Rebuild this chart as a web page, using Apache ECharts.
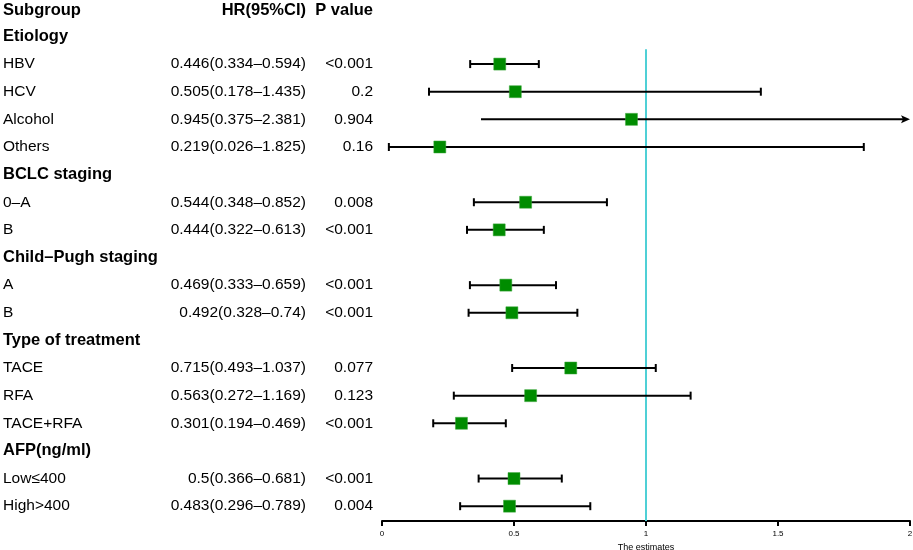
<!DOCTYPE html>
<html>
<head>
<meta charset="utf-8">
<script src="https://cdn.jsdelivr.net/npm/echarts@6/dist/echarts.min.js"></script>
<style>
html,body{margin:0;padding:0;background:#fff;}
#chart{width:913px;height:550px;}
</style>
</head>
<body>
<div id="chart"></div>
<script>
// ---- data ----
const rowLabels = ['Subgroup','Etiology','HBV','HCV','Alcohol','Others','BCLC staging','0–A','B',
  'Child–Pugh staging','A','B','Type of treatment','TACE','RFA','TACE+RFA','AFP(ng/ml)','Low≤400','High>400'];
const headerRows = [0,1,6,9,12,16];
const hrText = ['HR(95%CI)','','0.446(0.334–0.594)','0.505(0.178–1.435)','0.945(0.375–2.381)','0.219(0.026–1.825)','',
  '0.544(0.348–0.852)','0.444(0.322–0.613)','','0.469(0.333–0.659)','0.492(0.328–0.74)','',
  '0.715(0.493–1.037)','0.563(0.272–1.169)','0.301(0.194–0.469)','','0.5(0.366–0.681)','0.483(0.296–0.789)'];
const pText = ['P value','','<0.001','0.2','0.904','0.16','','0.008','<0.001','','<0.001','<0.001','',
  '0.077','0.123','<0.001','','<0.001','0.004'];
const hr    = [null,null,0.446,0.505,0.945,0.219,null,0.544,0.444,null,0.469,0.492,null,0.715,0.563,0.301,null,0.5,0.483];
const lower = [null,null,0.334,0.178,0.375,0.026,null,0.348,0.322,null,0.333,0.328,null,0.493,0.272,0.194,null,0.366,0.296];
const upper = [null,null,0.594,1.435,2.381,1.825,null,0.852,0.613,null,0.659,0.74,null,1.037,1.169,0.469,null,0.681,0.789];
const xTicks = [0,0.5,1,1.5,2];
const refValue = 1;

// ---- build ----
const xMin = xTicks[0], xMax = xTicks[xTicks.length-1];
const rowIdx = rowLabels.map((_, i) => String(i));
const forestData = [];
hr.forEach((v, i) => { if (v != null) forestData.push([i, v, lower[i], upper[i]]); });

const FONT = '"Liberation Sans", Arial, Helvetica, sans-serif';
const rich = {
  t: {fontFamily: FONT, fontSize: 16.5, fontWeight: 'bold', color: '#000', padding: [4, 0, 0, 0]},
  h: {fontFamily: FONT, fontSize: 16.5, fontWeight: 'bold', color: '#000'},
  n: {fontFamily: FONT, fontSize: 15.5, color: '#000'}
};
function fmt(arr) {
  return (val) => {
    const i = +val; const t = arr[i];
    if (!t) return '';
    if (i === 0) return '{t|' + t + '}';
    return headerRows.indexOf(i) >= 0 ? '{h|' + t + '}' : '{n|' + t + '}';
  };
}
function yAx(arr, margin, align) {
  return {
    type: 'category', data: rowIdx, inverse: true, position: 'left',
    axisLine: {show: false}, axisTick: {show: false}, splitLine: {show: false},
    axisLabel: {margin: margin, align: align, interval: 0, formatter: fmt(arr), rich: rich}
  };
}

const chart = echarts.init(document.getElementById('chart'), null, {renderer: 'canvas'});
chart.setOption({
  animation: false,
  backgroundColor: '#fff',
  grid: {left: 382, right: 3, top: -5, bottom: 30, containLabel: false, outerBoundsMode: 'none'},
  xAxis: {
    type: 'value', min: xMin, max: xMax, interval: 0.5, offset: 1,
    axisLine: {show: true, lineStyle: {color: '#000', width: 2}},
    axisTick: {show: true, length: 5, lineStyle: {color: '#000', width: 2}},
    axisLabel: {fontFamily: FONT, fontSize: 8, color: '#000', margin: 9,
      formatter: (v) => String(v), showMinLabel: true, showMaxLabel: true},
    splitLine: {show: false},
    name: 'The estimates', nameLocation: 'middle', nameGap: 20,
    nameTextStyle: {fontFamily: FONT, fontSize: 9, color: '#000'}
  },
  yAxis: [
    yAx(rowLabels, 379, 'left'),
    yAx(hrText, 76, 'right'),
    yAx(pText, 9, 'right')
  ],
  series: [
    {
      type: 'custom', yAxisIndex: 0, data: [[refValue, 1]],
      encode: {x: 0, y: 1},
      renderItem: function (params, api) {
        const band = api.size([0, 1])[1];
        const p = api.coord([api.value(0), api.value(1)]);
        const cs = params.coordSys;
        return {
          type: 'line',
          shape: {x1: p[0], y1: p[1] + band / 2 - 1, x2: p[0], y2: cs.y + cs.height + 1},
          style: {stroke: '#4FD0D6', lineWidth: 2}
        };
      }
    },
    {
      type: 'custom', yAxisIndex: 0, data: forestData,
      encode: {x: [1, 2, 3], y: 0},
      renderItem: function (params, api) {
        const row = api.value(0), v = api.value(1), lo = api.value(2), hi = api.value(3);
        const clipped = hi > xMax;
        const pLo = api.coord([Math.max(lo, xMin), row]);
        const pHi = api.coord([Math.min(hi, xMax), row]);
        const pV = api.coord([v, row]);
        const y = pV[1];
        const children = [];
        const ls = {stroke: '#000', lineWidth: 2};
        const endX = clipped ? pHi[0] - 6 : pHi[0];
        children.push({type: 'line', shape: {x1: pLo[0], y1: y, x2: endX, y2: y}, style: ls});
        if (!clipped) {
          children.push({type: 'line', shape: {x1: pLo[0], y1: y - 4, x2: pLo[0], y2: y + 4}, style: ls});
          children.push({type: 'line', shape: {x1: pHi[0], y1: y - 4, x2: pHi[0], y2: y + 4}, style: ls});
        } else {
          children.push({type: 'polygon', shape: {points: [[pHi[0], y], [pHi[0] - 9, y - 4], [pHi[0] - 7, y], [pHi[0] - 9, y + 4]]},
            style: {fill: '#000'}});
        }
        children.push({type: 'rect', shape: {x: pV[0] - 6, y: y - 6, width: 12, height: 12},
          style: {fill: '#008C00', stroke: '#3DA83D', lineWidth: 0.5}});
        return {type: 'group', children: children};
      }
    }
  ]
});
</script>
</body>
</html>
